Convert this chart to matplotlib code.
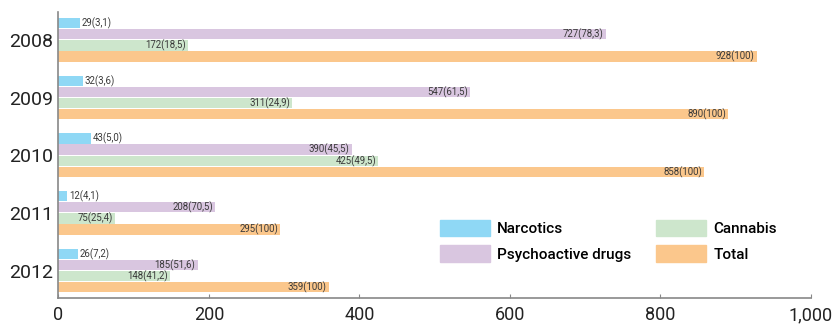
import numpy as np
import matplotlib.pyplot as plt
from matplotlib.patches import Patch
from matplotlib.ticker import FuncFormatter

years = ['2008', '2009', '2010', '2011', '2012']
series = ['Narcotics', 'Psychoactive drugs', 'Cannabis', 'Total']
colors = ['#8fd8f5', '#d9c6e0', '#cde6cc', '#fbc78c']

narcotics = [29, 32, 43, 12, 26]
narcotics_pct = ['3,1', '3,6', '5,0', '4,1', '7,2']
psycho = [727, 547, 390, 208, 185]
psycho_pct = ['78,3', '61,5', '45,5', '70,5', '51,6']
cannabis = [172, 311, 425, 75, 148]
cannabis_pct = ['18,5', '24,9', '49,5', '25,4', '41,2']
total = [928, 890, 858, 295, 359]
total_pct = ['100', '100', '100', '100', '100']

values = [narcotics, psycho, cannabis, total]
pcts = [narcotics_pct, psycho_pct, cannabis_pct, total_pct]

plt.rcParams['font.family'] = ['Roboto', 'DejaVu Sans']

fig = plt.figure(figsize=(8.34, 3.24), dpi=100)
ax = fig.add_axes([0.0701, 0.080, 0.9023, 0.883])

period = 5.19
for k in range(4):
    ypos = np.arange(len(years)) * period + k
    bars = ax.barh(ypos, values[k], height=0.93, color=colors[k], label=series[k])
    for b, v, p in zip(bars, values[k], pcts[k]):
        txt = f'{v}({p})'
        if k == 0:
            ax.text(v + 2, b.get_y() + b.get_height() / 2, txt, ha='left', va='center',
                    fontsize=6.9, color='#3a3a3a')
        else:
            ax.text(v - 3, b.get_y() + b.get_height() / 2, txt, ha='right', va='center',
                    fontsize=6.9, color='#3a3a3a')

ax.set_ylim(24.74, -1.01)
ax.set_yticks(np.arange(len(years)) * period + 1.5)
ax.set_yticklabels(years, fontsize=14, color='#222222')
ax.tick_params(axis='y', length=0, pad=4)

ax.set_xlim(0, 1000)
ax.set_xticks([0, 200, 400, 600, 800, 1000])
ax.xaxis.set_major_formatter(FuncFormatter(lambda x, pos: f'{int(x):,}'))
ax.tick_params(axis='x', direction='in', length=3, color='#888888', labelsize=13,
               labelcolor='#222222', pad=6)

for s in ['top', 'right']:
    ax.spines[s].set_visible(False)
for s in ['left', 'bottom']:
    ax.spines[s].set_color('#888888')
    ax.spines[s].set_linewidth(1.2)

handles = [Patch(color=c, label=s) for c, s in zip(colors, series)]
fig.legend(handles=handles, ncol=2, loc='upper left', bbox_to_anchor=(0.5276, 0.321),
           frameon=False, handlelength=3.3, handleheight=1.25,
           handletextpad=0.45, columnspacing=1.6, labelspacing=0.6,
           borderpad=0, borderaxespad=0, prop={'size': 11, 'weight': 'medium'})

fig.savefig('out.png', dpi=100)
